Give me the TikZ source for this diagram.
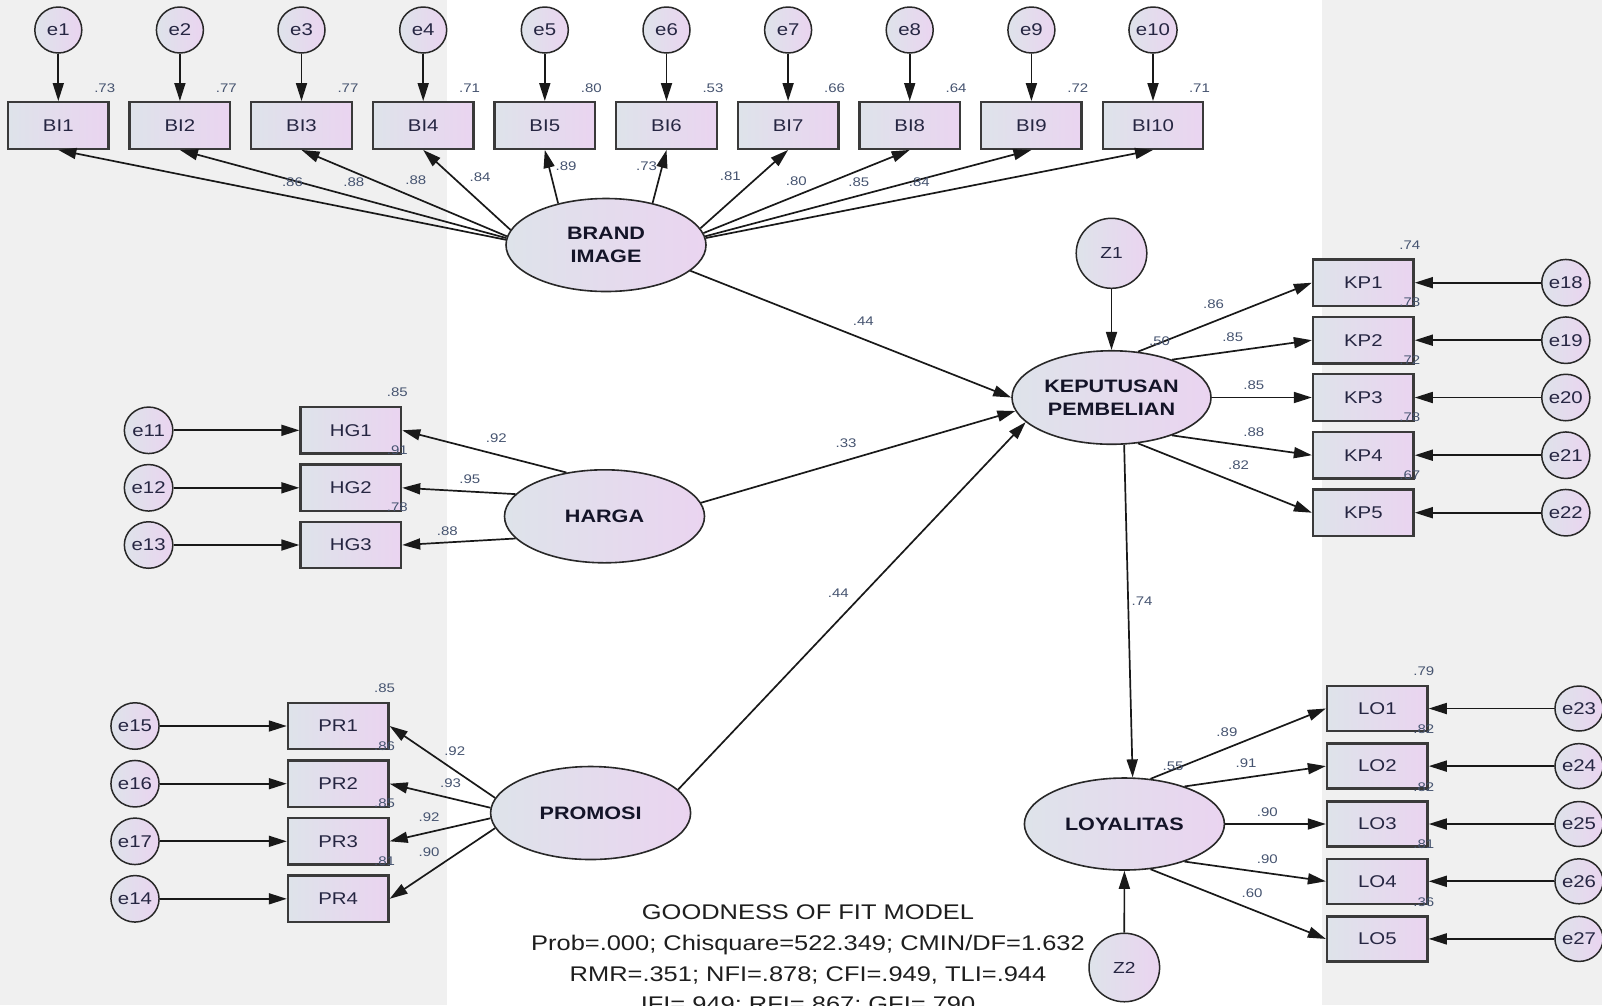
\documentclass[tikz,border=0pt]{standalone}
\usepackage{fontspec}
\setmainfont{Liberation Sans}[FakeStretch=1.2]
\usetikzlibrary{shapes.geometric,arrows.meta,calc}

\definecolor{bggray}{RGB}{240,240,240}
\definecolor{fillL}{RGB}{222,227,234}
\definecolor{fillR}{RGB}{234,212,240}
\definecolor{boxline}{RGB}{58,58,58}
\definecolor{edgeline}{RGB}{40,40,40}
\definecolor{arrowc}{RGB}{25,25,25}
\definecolor{labelc}{RGB}{38,38,66}
\definecolor{numc}{RGB}{70,84,112}
\definecolor{latc}{RGB}{20,20,40}
\definecolor{fitc}{RGB}{30,30,30}

\begin{document}
\begin{tikzpicture}[x=1pt,y=-1pt,
  obs/.style={draw=boxline, line width=2.4pt, left color=fillL, right color=fillR,
    minimum width=100.5pt, minimum height=46.5pt, inner sep=0pt,
    font=\fontsize{17}{20}\selectfont, text=labelc},
  err/.style={ellipse, draw=edgeline, line width=1.5pt, left color=fillL, right color=fillR,
    inner sep=0pt, minimum width=47pt, minimum height=46.5pt,
    font=\fontsize{17}{20}\selectfont, text=labelc},
  lat/.style={ellipse, draw=edgeline, line width=1.6pt, left color=fillL, right color=fillR,
    minimum width=200pt, minimum height=93pt, inner sep=0pt, align=center,
    font=\bfseries\fontsize{18}{22.7}\selectfont, text=latc},
  num/.style={inner sep=0pt, font=\fontsize{12.5}{14}\selectfont, text=numc},
  arr/.style={-{Triangle[length=18pt,width=11pt]}, line width=1.7pt, draw=arrowc},
  fit/.style={inner sep=0pt, anchor=base, font=\fontsize{21.2}{30.8}\selectfont, text=fitc}
]
\useasboundingbox (0,0) rectangle (1602,1005);
\clip (0,0) rectangle (1602,1005);

% grey side panels
\fill[bggray] (0,0) rectangle (447,1005);
\fill[bggray] (1322,0) rectangle (1602,1005);

% latent variables
\node[lat] (br) at (606,245) {BRAND\\IMAGE};
\node[lat] (hg) at (604.5,516.3) {HARGA};
\node[lat] (pr) at (590.6,813) {PROMOSI};
\node[lat, minimum width=199pt, minimum height=93.5pt] (kp) at (1111.5,397.5) {KEPUTUSAN\\PEMBELIAN};
\node[lat, minimum height=92pt] (lo) at (1124.4,824) {LOYALITAS};

% disturbances
\node[err, minimum width=70.6pt, minimum height=70pt, font=\fontsize{16}{18}\selectfont] (z1) at (1111.5,253.3) {Z1};
\node[err, minimum width=70.6pt, minimum height=68.5pt, font=\fontsize{16}{18}\selectfont] (z2) at (1124.3,967.5) {Z2};
\draw[arr] (z1.south) -- (kp.north);
\draw[arr] (z2.north) -- (lo.south);

% brand image indicators
\foreach \i/\x/\r/\a in {1/58.3/.73/177, 2/179.9/.77/176, 3/301.5/.77/175, 4/423.2/.71/171,
    5/544.8/.80/139, 6/666.5/.53/42, 7/788.1/.66/10, 8/909.7/.64/7, 9/1031.4/.72/5, 10/1153.0/.71/4} {
  \node[obs] (b\i) at (\x,125.5) {BI\i};
  \node[err, minimum width=47pt, minimum height=46pt] (e\i) at (\x,30) {e\i};
  \node[num] (rb\i) at ($(b\i.north east)+(-5,-13.3)$) {\r};
  \draw[arr] (e\i.south) -- (b\i.north);
  \draw[arr] (br.\a) -- (b\i.south);
}
\node[num] (wb1) at (292.5,181.7) {.86};
\node[num] (wb2) at (353.8,181.7) {.88};
\node[num] (wb3) at (415.8,180) {.88};
\node[num] (wb4) at (480,176.7) {.84};
\node[num] (wb5) at (566,165.7) {.89};
\node[num] (wb6) at (646.6,165.7) {.73};
\node[num] (wb7) at (730.4,175.7) {.81};
\node[num] (wb8) at (796.4,180.7) {.80};
\node[num] (wb9) at (858.9,182.3) {.85};
\node[num] (wb10) at (919.4,182.3) {.84};

% harga indicators
\foreach \i/\y/\r/\a/\e in {1/430.3/.85/131/11, 2/487.8/.91/166/12, 3/545/.78/194/13} {
  \node[obs] (h\i) at (350.8,\y) {HG\i};
  \node[err, minimum width=48.5pt] (eh\i) at (148.6,\y) {e\e};
  \node[num] (rh\i) at ($(h\i.north east)+(-5,-13.3)$) {\r};
  \draw[arr] (eh\i) -- (h\i);
  \draw[arr] (hg.\a) -- (h\i.east);
}
\node[num] (wh1) at (496.3,438.3) {.92};
\node[num] (wh2) at (469.8,479.3) {.95};
\node[num] (wh3) at (447.3,530.7) {.88};

% promosi indicators
\foreach \i/\y/\r/\a/\e in {1/726/.85/171/15, 2/783.7/.86/177/16, 3/841.3/.85/183/17, 4/898.8/.81/189/14} {
  \node[obs] (p\i) at (338.2,\y) {PR\i};
  \node[err] (ep\i) at (135,\y) {e\e};
  \node[num] (rp\i) at ($(p\i.north east)+(-5,-13.3)$) {\r};
  \draw[arr] (ep\i) -- (p\i);
  \draw[arr] (pr.\a) -- (p\i.east);
}
\node[num] (wp1) at (454.7,750.7) {.92};
\node[num] (wp2) at (450.6,782.7) {.93};
\node[num] (wp3) at (429,816.7) {.92};
\node[num] (wp4) at (429,851.7) {.90};

% keputusan pembelian indicators
\foreach \i/\y/\r/\a/\e in {1/282.7/.74/60/18, 2/340.2/.78/32/19, 3/397.5/.72/0/20, 4/455.2/.78/-32/21, 5/512.7/.67/-60/22} {
  \node[obs] (k\i) at (1363.3,\y) {KP\i};
  \node[err, minimum width=48pt] (ek\i) at (1565.8,\y) {e\e};
  \node[num] (rk\i) at ($(k\i.north east)+(-5,-13.3)$) {\r};
  \draw[arr] (ek\i) -- (k\i);
  \draw[arr] (kp.\a) -- (k\i.west);
}
\node[num] (rkp) at (1159.6,340.7) {.50};
\node[num] (wk1) at (1213.5,304) {.86};
\node[num] (wk2) at (1232.7,336.7) {.85};
\node[num] (wk3) at (1253.8,385) {.85};
\node[num] (wk4) at (1253.8,431.7) {.88};
\node[num] (wk5) at (1238.5,465) {.82};

% loyalitas indicators
\foreach \i/\y/\r/\a/\e in {1/708.5/.79/60/23, 2/766.1/.82/32/24, 3/824/.82/0/25, 4/881.3/.81/-32/26, 5/938.9/.36/-60/27} {
  \node[obs, minimum height=45pt] (l\i) at (1377.3,\y) {LO\i};
  \node[err, minimum width=45pt, minimum height=45pt] (el\i) at (1579,\y) {e\e};
  \node[num] (rl\i) at ($(l\i.north east)+(-5,-13.3)$) {\r};
  \draw[arr] (el\i) -- (l\i);
  \draw[arr] (lo.\a) -- (l\i.west);
}
\node[num] (rlo) at (1173,766.7) {.55};
\node[num] (wl1) at (1226.9,731.7) {.89};
\node[num] (wl2) at (1246,763.3) {.91};
\node[num] (wl3) at (1267.3,811.7) {.90};
\node[num] (wl4) at (1267.3,859.3) {.90};
\node[num] (wl5) at (1252,892.7) {.60};

% structural paths
\draw[arr] (br.-17) -- (kp.180);
\draw[arr] (hg.8.5) -- (kp.188.6);
\draw[arr] (pr.15.4) -- (kp.196);
\draw[arr] (kp.-75) -- (lo.80);
\node[num] (s1) at (863.3,320.7) {.44};
\node[num] (s2) at (846,443.3) {.33};
\node[num] (s3) at (838.3,593.3) {.44};
\node[num] (s4) at (1142,600.8) {.74};

% fit summary
\node[fit] (fit1) at (808,919.5) {GOODNESS OF FIT MODEL};
\node[fit] (fit2) at (808,950.3) {Prob=.000; Chisquare=522.349; CMIN/DF=1.632};
\node[fit] (fit3) at (808,981.1) {RMR=.351; NFI=.878; CFI=.949, TLI=.944};
\node[fit] (fit4) at (808,1011.9) {IFI=.949; RFI=.867; GFI=.790};
\end{tikzpicture}
\end{document}
